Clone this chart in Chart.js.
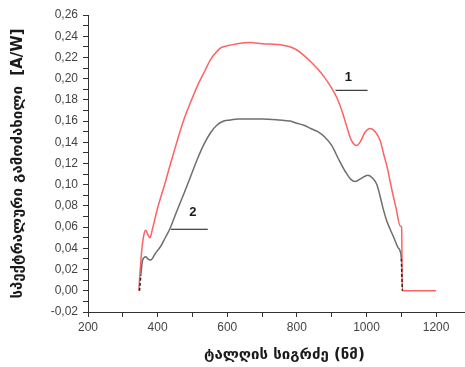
<!DOCTYPE html>
<html>
<head>
<meta charset="utf-8">
<script src="https://cdn.jsdelivr.net/npm/chart.js@4.4.1/dist/chart.umd.min.js"></script>
<style>
  html, body { margin: 0; padding: 0; background: #ffffff; }
  #c { display: block; }
</style>
</head>
<body>
<canvas id="c" width="465" height="367"></canvas>
<script>
// ---- data ----
const wl1 = [346, 350, 355, 360, 366, 372, 378, 385, 400, 420, 438, 455, 475, 495, 514, 535, 552, 566, 581, 600, 629, 667, 700, 753, 780, 800, 820, 840, 860, 880, 900, 915, 930, 945, 955, 965, 972, 983, 995, 1010, 1025, 1040, 1050, 1059, 1073, 1085, 1097, 1101, 1103, 1200];
const resp1 = [0.000, 0.020, 0.040, 0.052, 0.057, 0.053, 0.050, 0.058, 0.078, 0.100, 0.121, 0.140, 0.161, 0.178, 0.193, 0.207, 0.218, 0.224, 0.229, 0.231, 0.233, 0.234, 0.233, 0.232, 0.230, 0.227, 0.222, 0.216, 0.209, 0.201, 0.191, 0.182, 0.169, 0.153, 0.143, 0.138, 0.137, 0.141, 0.149, 0.153, 0.150, 0.141, 0.128, 0.117, 0.095, 0.078, 0.061, 0.060, 0.000, 0.000];

const wl2 = [348, 352, 357, 366, 372, 380, 395, 409, 422, 436, 455, 476, 495, 514, 533, 552, 570, 590, 610, 630, 660, 700, 750, 780, 800, 820, 840, 860, 880, 900, 920, 940, 955, 968, 985, 1004, 1018, 1030, 1040, 1049, 1058, 1068, 1080, 1090, 1097, 1100, 1103];
const resp2 = [0.000, 0.015, 0.029, 0.032, 0.030, 0.029, 0.036, 0.042, 0.050, 0.059, 0.075, 0.092, 0.108, 0.124, 0.138, 0.149, 0.156, 0.160, 0.161, 0.162, 0.162, 0.162, 0.161, 0.160, 0.158, 0.156, 0.153, 0.150, 0.145, 0.137, 0.124, 0.112, 0.105, 0.103, 0.106, 0.109, 0.106, 0.100, 0.088, 0.076, 0.066, 0.058, 0.049, 0.041, 0.037, 0.030, 0.000];

// curve markers (label, line segment x-range, line y, label position)
const markerLabels = ["1", "2"];
const markerLineX = [[911, 1003], [438, 544]];
const markerLineY = [0.189, 0.058];
const markerTextPos = [[948, 0.201], [501, 0.074]];

const xTickValues = [200, 400, 600, 800, 1000, 1200];
const yTickValues = [-0.02, 0.00, 0.02, 0.04, 0.06, 0.08, 0.10, 0.12, 0.14, 0.16, 0.18, 0.20, 0.22, 0.24, 0.26];

const xTitle = "ტალღის სიგრძე (ნმ)";
const yTitle = "სპექტრალური გამოძახილი  [A/W]";

// ---- build chart ----
const toPts = (xs, ys) => xs.map((x, i) => ({ x: x, y: ys[i] }));

const datasets = [
  { data: toPts(wl2, resp2), borderColor: "#6e6e6e", borderWidth: 1.5, pointRadius: 0,
    cubicInterpolationMode: "monotone", showLine: true, order: 0,
    segment: {
      borderDash: c => (c.p0.parsed.y === 0 || c.p1.parsed.y === 0) ? [3, 2] : undefined,
      borderColor: c => (c.p0.parsed.y === 0 || c.p1.parsed.y === 0) ? "#2a2a2a" : undefined
    } },
  { data: toPts(wl1, resp1), borderColor: "#ff6262", borderWidth: 1.5, pointRadius: 0,
    cubicInterpolationMode: "monotone", showLine: true, order: 1 }
];
markerLineX.forEach((xr, i) => {
  datasets.push({ data: [{ x: xr[0], y: markerLineY[i] }, { x: xr[1], y: markerLineY[i] }],
    borderColor: "#111111", borderWidth: 1, pointRadius: 0, showLine: true, order: 0 });
});

const markerTextPlugin = {
  id: "markerText",
  afterDatasetsDraw(chart) {
    const ctx = chart.ctx;
    const xs = chart.scales.x, ys = chart.scales.y;
    ctx.save();
    ctx.font = "bold 13px 'Liberation Sans', Arial, sans-serif";
    ctx.fillStyle = "#1a1a1a";
    ctx.textAlign = "center";
    ctx.textBaseline = "middle";
    markerLabels.forEach((t, i) => {
      ctx.fillText(t, xs.getPixelForValue(markerTextPos[i][0]), ys.getPixelForValue(markerTextPos[i][1]));
    });
    ctx.restore();
  }
};

const fmtY = v => v.toFixed(2).replace(".", ",");
const isMajor = (v, arr) => arr.some(a => Math.abs(a - v) < 1e-9);

new Chart(document.getElementById("c"), {
  type: "scatter",
  data: { datasets: datasets },
  plugins: [markerTextPlugin],
  options: {
    responsive: false,
    devicePixelRatio: 1,
    animation: false,
    layout: { padding: { top: 15, right: 0, left: 0, bottom: 0 } },
    plugins: { legend: { display: false }, tooltip: { enabled: false } },
    scales: {
      x: {
        type: "linear",
        min: 200, max: 1283,
        afterBuildTicks(scale) {
          const t = [];
          for (let v = 200; v <= 1200; v += 100) t.push({ value: v });
          scale.ticks = t;
        },
        afterFit(scale) { scale.height = 55; },
        border: { display: true, color: "#333333", width: 1 },
        grid: { drawOnChartArea: false, drawTicks: true, tickLength: 5, color: "#333333" },
        ticks: {
          padding: 3,
          color: "#444444",
          font: { family: "'Liberation Sans', Arial, sans-serif", size: 12 },
          maxRotation: 0,
          autoSkip: false,
          callback: v => isMajor(v, xTickValues) ? String(v) : ""
        },
        title: {
          display: true, text: "\u00a0\u00a0\u00a0" + xTitle, color: "#1a1a1a",
          font: { family: "'DejaVu Sans', sans-serif", size: 15, weight: "bold" },
          padding: { top: 0, bottom: 3 }
        }
      },
      y: {
        type: "linear",
        min: -0.02, max: 0.26,
        afterBuildTicks(scale) {
          const t = [];
          for (let k = -2; k <= 26; k++) t.push({ value: Math.round(k) / 100 });
          scale.ticks = t;
        },
        afterFit(scale) { scale.width = 88; },
        border: { display: true, color: "#333333", width: 1 },
        grid: { drawOnChartArea: false, drawTicks: true, tickLength: 5, color: "#333333" },
        ticks: {
          padding: 5,
          color: "#444444",
          font: { family: "'Liberation Sans', Arial, sans-serif", size: 12 },
          autoSkip: false,
          callback: v => isMajor(v, yTickValues) ? fmtY(v) : ""
        },
        title: {
          display: true, text: yTitle, color: "#1a1a1a",
          font: { family: "'DejaVu Sans', sans-serif", size: 15, weight: "bold" },
          padding: { top: 9, bottom: 0 }
        }
      }
    }
  }
});
</script>
</body>
</html>
